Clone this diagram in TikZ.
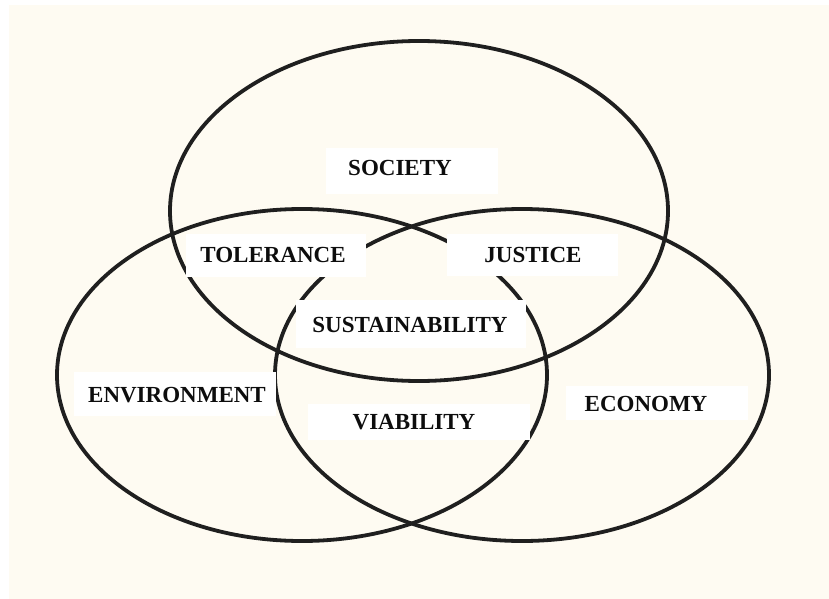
\documentclass[tikz,border=0pt]{standalone}
\usepackage{fontspec}
\setmainfont{Liberation Serif}
\definecolor{cream}{HTML}{FEFBF2}
\begin{document}
\begin{tikzpicture}[x=1pt,y=-1pt,
  ring/.style={draw=black!88, line width=3.8pt},
  tag/.style={fill=white, inner sep=0pt, font=\fontsize{23}{26}\selectfont\bfseries, text=black!95},
  pad/.style={fill=white, draw=none}]
  \useasboundingbox (0,0) rectangle (829,599);
  % paper
  \fill[white] (0,0) rectangle (829,599);
  \fill[cream] (9,5) rectangle (829,599);
  % the three circles
  \draw[ring] (419,211) ellipse [x radius=249, y radius=170];
  \draw[ring] (302,375) ellipse [x radius=245, y radius=166];
  \draw[ring] (522,375) ellipse [x radius=247, y radius=166];
  % label backings
  \fill[pad] (326,148) rectangle (498,194);
  \fill[pad] (186,234) rectangle (366,277);
  \fill[pad] (447,234) rectangle (618,276);
  \fill[pad] (296,300) rectangle (526,348);
  \fill[pad] (74,372) rectangle (276,416);
  \fill[pad] (308,404) rectangle (530,440);
  \fill[pad] (566,386) rectangle (748,420);
  % labels
  \node[tag] (society) at (400,168) {SOCIETY};
  \node[tag] (tolerance) at (273,255) {TOLERANCE};
  \node[tag] (justice) at (533,255) {JUSTICE};
  \node[tag] (sustain) at (410,325) {SUSTAINABILITY};
  \node[tag] (environment) at (177,395) {ENVIRONMENT};
  \node[tag] (viability) at (414,422) {VIABILITY};
  \node[tag] (economy) at (646,404) {ECONOMY};
\end{tikzpicture}
\end{document}
